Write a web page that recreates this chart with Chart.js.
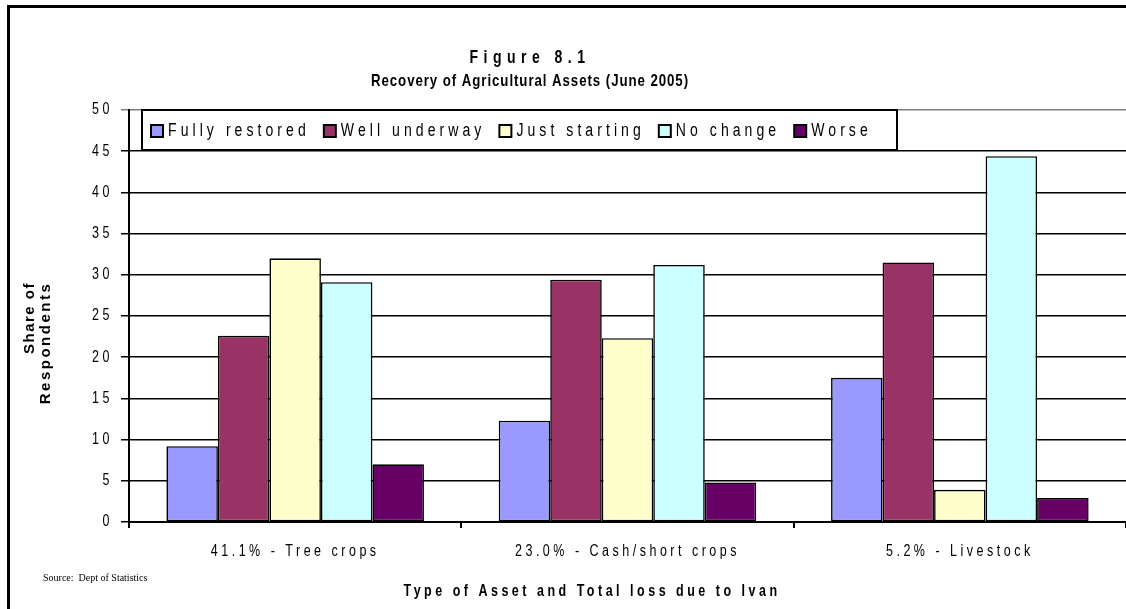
<!DOCTYPE html>
<html>
<head>
<meta charset="utf-8">
<script src="https://cdn.jsdelivr.net/npm/chart.js@4.4.1/dist/chart.umd.min.js"></script>
<style>
  html, body { margin: 0; padding: 0; background: #fff; }
  #wrap { position: relative; width: 1126px; height: 609px; }
</style>
</head>
<body>
<div id="wrap"><canvas id="chart1"></canvas></div>
<script>
// data
const categories = ['41.1% - Tree crops', '23.0% - Cash/short crops', '5.2% - Livestock'];
const seriesNames = ['Fully restored', 'Well underway', 'Just starting', 'No change', 'Worse'];
const fullyRestored = [9.2, 12.3, 17.5];
const wellUnderway = [22.6, 29.4, 31.5];
const justStarting = [32.0, 22.3, 3.9];
const noChange = [29.1, 31.2, 44.4];
const worse = [7.0, 4.8, 2.9];
const yTicks = [0, 5, 10, 15, 20, 25, 30, 35, 40, 45, 50];

const colors = ['#9999FF', '#993366', '#FFFFCC', '#CCFFFF', '#660066'];

const FAMILY = '"Liberation Sans", Arial, sans-serif';
const SX = 0.78; // the original uses a narrow face, squeeze the text horizontally

Chart.defaults.font.family = FAMILY;
Chart.defaults.color = '#000';

// draw one piece of text, squeezed along its own direction
function txt(ctx, s, x, y, font, sp, align, rot, sx) {
  ctx.save();
  ctx.font = font;
  ctx.letterSpacing = sp + 'px';
  ctx.fillStyle = '#000';
  ctx.textBaseline = 'middle';
  ctx.textAlign = align || 'center';
  ctx.translate(x, y);
  if (rot) ctx.rotate(rot);
  ctx.scale(sx == null ? SX : sx, 1);
  ctx.fillText(s, 0, 0);
  ctx.restore();
}

function textWidth(ctx, s, font, sp) {
  ctx.save();
  ctx.font = font;
  ctx.letterSpacing = sp + 'px';
  const w = ctx.measureText(s).width * SX;
  ctx.restore();
  return w;
}

const extras = {
  id: 'extras',
  afterDraw(chart) {
    const ctx = chart.ctx;
    const xs = chart.scales.x;
    const ys = chart.scales.y;

    // outer frame (cut off at right and bottom)
    ctx.save();
    ctx.strokeStyle = '#000';
    ctx.lineWidth = 3;
    ctx.strokeRect(8.5, 6.5, 1200, 700);
    ctx.restore();

    // tick labels, placed with the scales
    const tickFont = '16px ' + FAMILY;
    ys.ticks.forEach(t => {
      txt(ctx, String(t.value), 113, ys.getPixelForValue(t.value), tickFont, 4.5, 'right');
    });
    chart.data.labels.forEach((lab, i) => {
      txt(ctx, lab, xs.getPixelForValue(i), 552, tickFont, 4.5, 'center');
    });

    txt(ctx, 'Figure 8.1', 530, 58, 'bold 18px ' + FAMILY, 7);
    txt(ctx, 'Recovery of Agricultural Assets (June 2005)', 530, 81, 'bold 17px ' + FAMILY, 1.2);

    txt(ctx, 'Share of', 30, 318, 'bold 15px ' + FAMILY, 1.5, 'center', -Math.PI / 2, 1);
    txt(ctx, 'Respondents', 46, 343, 'bold 15px ' + FAMILY, 2.5, 'center', -Math.PI / 2, 1);

    txt(ctx, 'Type of Asset and Total loss due to Ivan', 592, 592, 'bold 16px ' + FAMILY, 4.5);

    txt(ctx, 'Source:  Dept of Statistics', 43, 578, '10px "Liberation Serif", "Times New Roman", serif', 0, 'left', 0, 1);

    // legend box sitting on top of the plot
    ctx.save();
    ctx.fillStyle = '#fff';
    ctx.fillRect(142, 110, 755, 40);
    ctx.strokeStyle = '#000';
    ctx.lineWidth = 2;
    ctx.strokeRect(142, 110, 755, 40);
    const lfont = '18px ' + FAMILY;
    const lsp = 5.2;
    let x = 151;
    const y = 131;
    chart.data.datasets.forEach(ds => {
      ctx.fillStyle = ds.backgroundColor;
      ctx.fillRect(x, y - 6, 12, 12);
      ctx.lineWidth = 2;
      ctx.strokeStyle = '#000';
      ctx.strokeRect(x, y - 6, 12, 12);
      const w = textWidth(ctx, ds.label, lfont, lsp);
      txt(ctx, ds.label, x + 17, y, lfont, lsp, 'left');
      x += 17 + w + 14;
    });
    ctx.restore();
  }
};

const datasets = [fullyRestored, wellUnderway, justStarting, noChange, worse].map((vals, i) => ({
  label: seriesNames[i],
  data: vals,
  backgroundColor: colors[i],
  borderColor: '#000',
  borderWidth: 1.6,
  borderSkipped: false,
  categoryPercentage: 0.775,
  barPercentage: 1
}));

const ctx1 = document.getElementById('chart1').getContext('2d');

new Chart(ctx1, {
  type: 'bar',
  data: { labels: categories, datasets: datasets },
  options: {
    responsive: true,
    maintainAspectRatio: false,
    animation: false,
    layout: { padding: { top: 110, left: 0, right: 0, bottom: 0 } },
    plugins: {
      legend: { display: false },
      tooltip: { enabled: false }
    },
    scales: {
      x: {
        grid: { drawOnChartArea: false, color: '#000', lineWidth: 2, tickLength: 6, offset: true },
        border: { color: '#000', width: 2 },
        ticks: { display: false },
        afterFit(scale) { scale.height = 87; }
      },
      y: {
        min: 0,
        max: 50,
        afterBuildTicks(scale) { scale.ticks = yTicks.map(v => ({ value: v })); },
        grid: {
          color: c => (c.tick && c.tick.value === 50 ? '#808080' : '#000'),
          lineWidth: 1.5,
          tickLength: 8
        },
        border: { color: '#000', width: 2 },
        ticks: { display: false },
        afterFit(scale) { scale.width = 129; }
      }
    }
  },
  plugins: [extras]
});
</script>
</body>
</html>
